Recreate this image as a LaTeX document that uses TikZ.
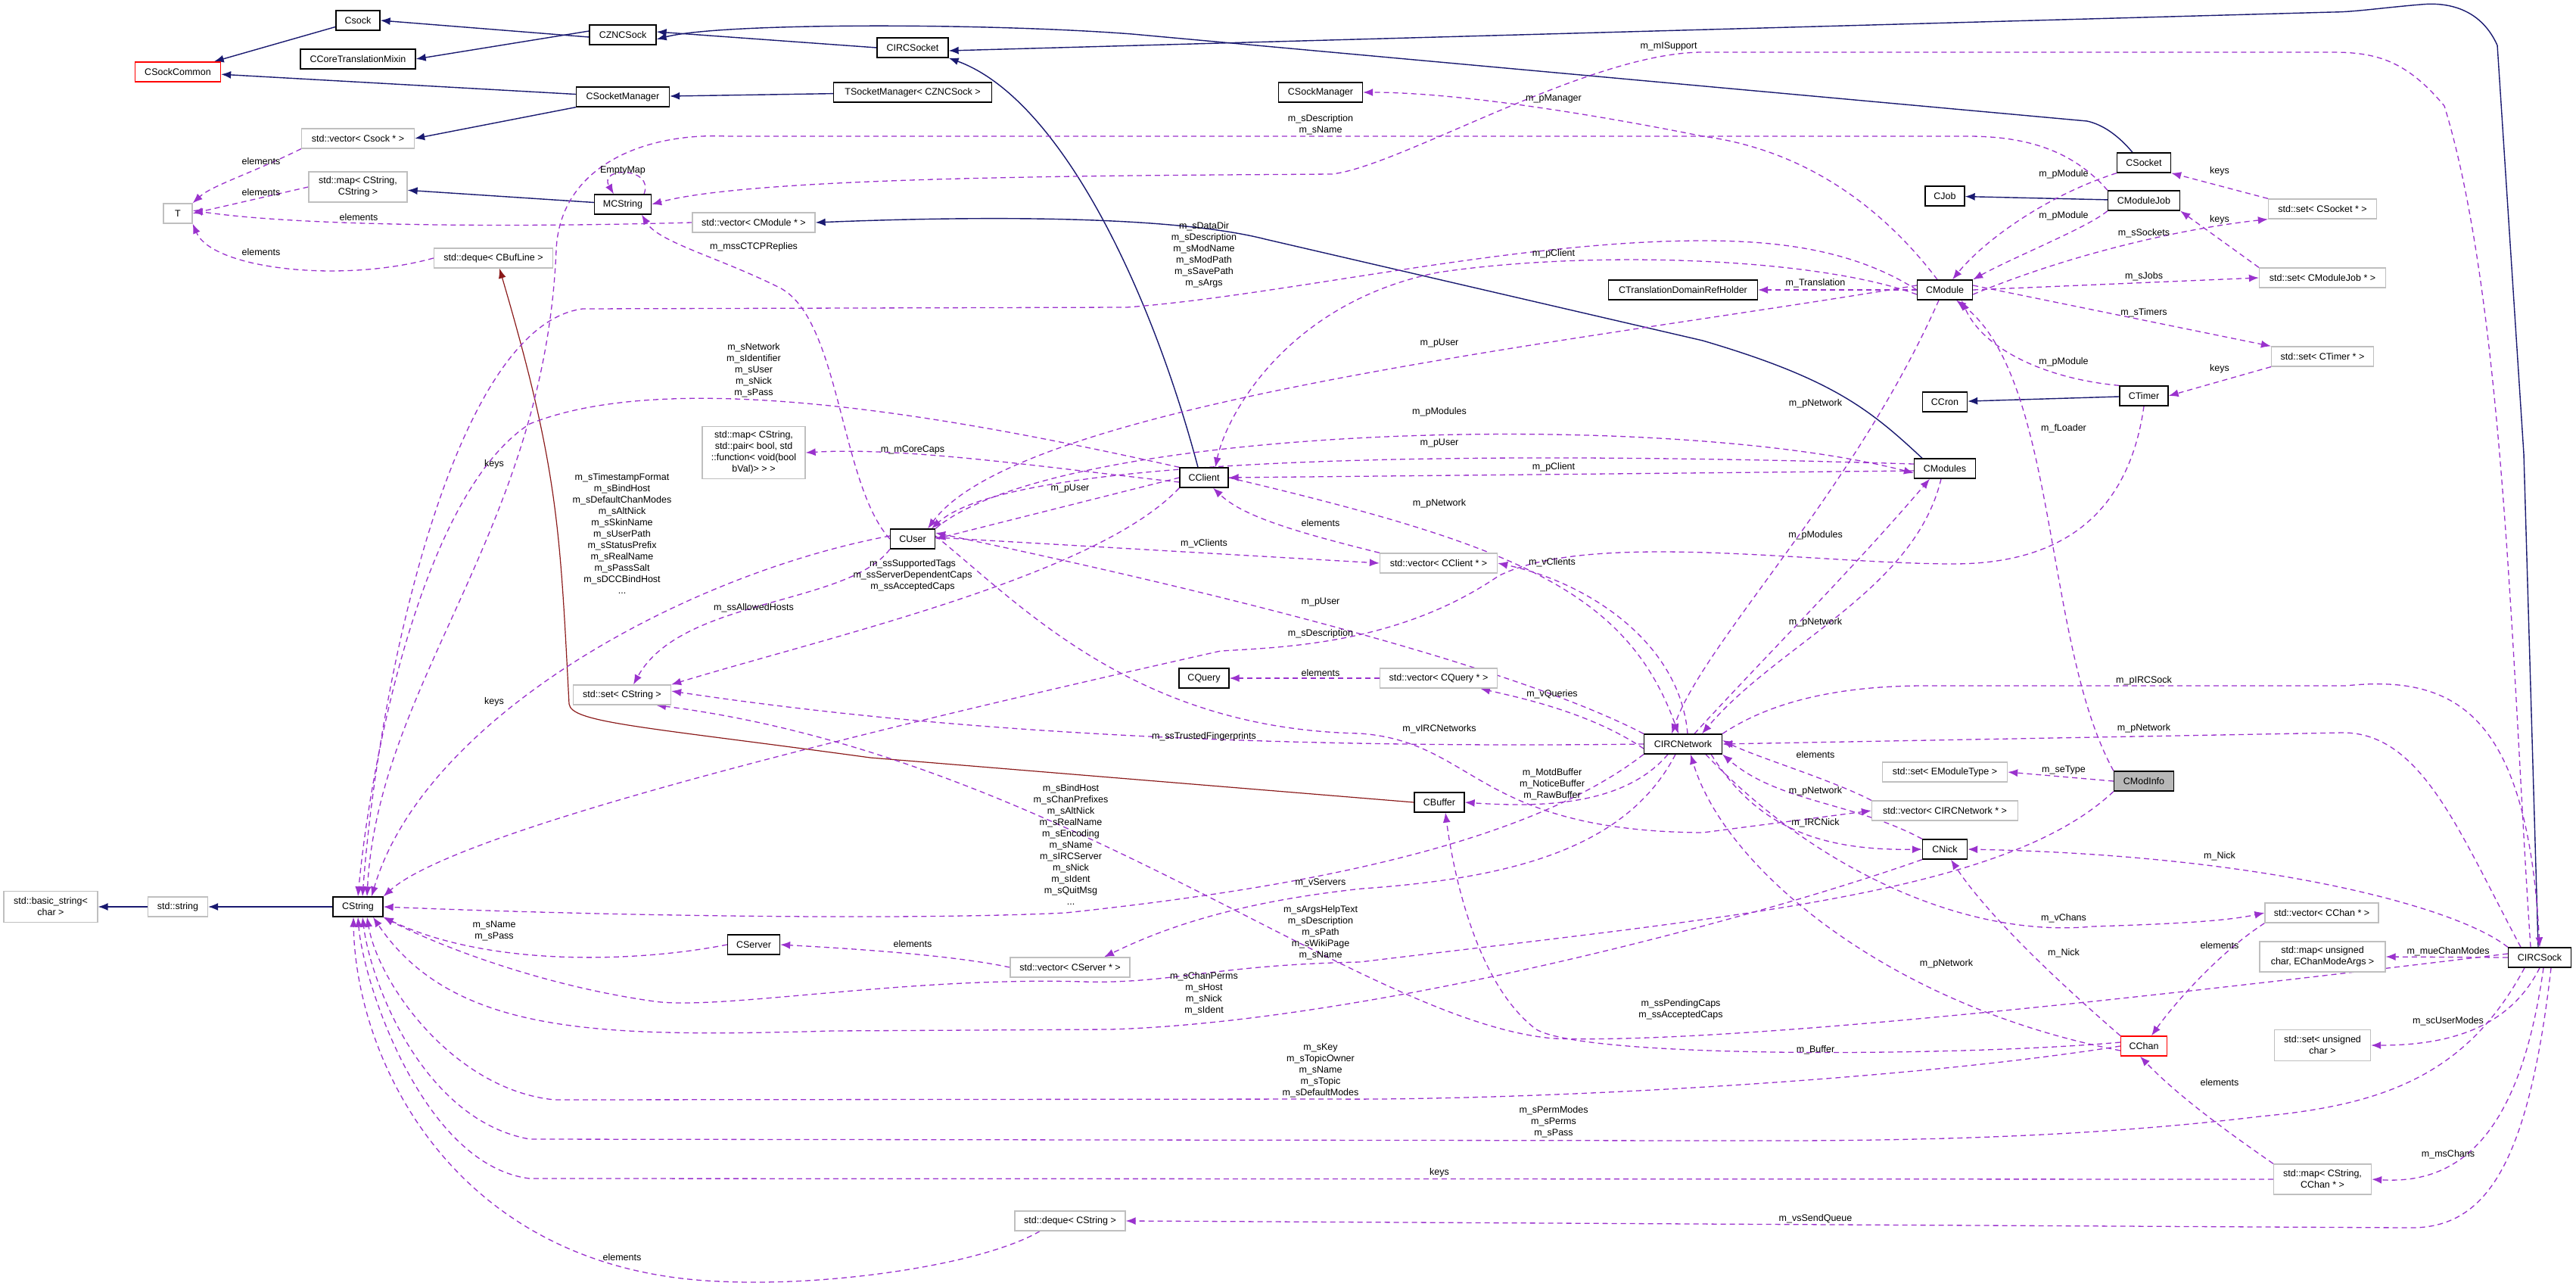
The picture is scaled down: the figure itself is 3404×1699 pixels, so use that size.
\documentclass[tikz,border=0pt]{standalone}
\usepackage{fontspec}
\setmainfont{Liberation Sans}
\usetikzlibrary{arrows.meta,backgrounds}
\definecolor{inhc}{HTML}{191970}
\definecolor{usec}{HTML}{9A32CD}
\definecolor{tplc}{HTML}{8B1A1A}
\begin{document}
\begin{tikzpicture}[x=1pt,y=-1pt,
  every node/.style={font=\fontsize{12.5}{15}\selectfont},
  cls/.style={draw=black,line width=1.3pt,fill=white,minimum height=26,inner sep=0,align=center},
  ext/.style={draw=black!25,line width=1.3pt,fill=white,minimum height=26,inner sep=0,align=center},
  redc/.style={draw=red,line width=1.3pt,fill=white,minimum height=26,inner sep=0},
  focus/.style={draw=black,line width=1.3pt,fill=black!28,minimum height=26,inner sep=0},
  inh/.style={draw=inhc,line width=1.4pt,-{Latex[length=13,width=10]}},
  tpl/.style={draw=tplc,line width=1.2pt,-{Latex[length=13,width=10]}},
  use/.style={draw=usec,line width=1.3pt,dash pattern=on 7pt off 5pt,-{Latex[length=13,width=10]}},
  lbl/.style={align=center,inner sep=1}]
\useasboundingbox (0,0) rectangle (3404,1699);
% nodes
\node[cls,minimum width=58] (Csock) at (473,27) {Csock};
\node[cls,minimum width=88] (CZNCSock) at (823,46) {CZNCSock};
\node[cls,minimum width=152] (CCTM) at (473,78) {CCoreTranslationMixin};
\node[redc,minimum width=113] (CSockCommon) at (235,95) {CSockCommon};
\node[cls,minimum width=123] (CSocketManager) at (823,128) {CSocketManager};
\node[ext,minimum width=149] (vecCsock) at (473,183) {std::vector< Csock * >};
\node[ext,minimum width=130,minimum height=40] (mapSS) at (473,247) {std::map< CString,\\CString >};
\node[ext,minimum width=38] (T) at (235,282) {T};
\node[cls,minimum width=75] (MCString) at (823,270) {MCString};
\node[ext,minimum width=162] (vecCModule) at (996,294) {std::vector< CModule * >};
\node[ext,minimum width=157] (dequeCBufLine) at (652,341) {std::deque< CBufLine >};
\node[ext,minimum width=136,minimum height=69] (mapPair) at (996,598) {std::map< CString,\\std::pair< bool, std\\::function< void(bool\\bVal)> > >};
\node[cls,minimum width=94] (CIRCSocket) at (1206,63) {CIRCSocket};
\node[cls,minimum width=209] (TSocketManager) at (1206,122) {TSocketManager< CZNCSock >};
\node[cls,minimum width=111] (CSockManager) at (1745,122) {CSockManager};
\node[cls,minimum width=197] (CTDRH) at (2224,383) {CTranslationDomainRefHolder};
\node[cls,minimum width=71] (CSocket) at (2833,215) {CSocket};
\node[cls,minimum width=52] (CJob) at (2570,259) {CJob};
\node[cls,minimum width=95] (CModuleJob) at (2833,265) {CModuleJob};
\node[ext,minimum width=143] (setCSocket) at (3069,276) {std::set< CSocket * >};
\node[cls,minimum width=73] (CModule) at (2570,383) {CModule};
\node[ext,minimum width=167] (setCModuleJob) at (3069,367) {std::set< CModuleJob * >};
\node[ext,minimum width=135] (setCTimer) at (3069,471) {std::set< CTimer * >};
\node[cls,minimum width=59] (CCron) at (2570,531) {CCron};
\node[cls,minimum width=64] (CTimer) at (2833,523) {CTimer};
\node[cls,minimum width=64] (CClient) at (1591,631) {CClient};
\node[cls,minimum width=59] (CUser) at (1206,712) {CUser};
\node[ext,minimum width=155] (vecCClient) at (1901,744) {std::vector< CClient * >};
\node[cls,minimum width=66] (CQuery) at (1591,896) {CQuery};
\node[ext,minimum width=155] (vecCQuery) at (1901,896) {std::vector< CQuery * >};
\node[cls,minimum width=103] (CIRCNetwork) at (2224,983) {CIRCNetwork};
\node[cls,minimum width=66] (CBuffer) at (1902,1060) {CBuffer};
\node[ext,minimum width=129] (setCString) at (822,918) {std::set< CString >};
\node[cls,minimum width=81] (CModules) at (2570,619) {CModules};
\node[ext,minimum width=165] (setEMT) at (2570,1020) {std::set< EModuleType >};
\node[focus,minimum width=79] (CModInfo) at (2833,1032) {CModInfo};
\node[ext,minimum width=193] (vecCIRCNetwork) at (2570,1071) {std::vector< CIRCNetwork * >};
\node[cls,minimum width=59] (CNick) at (2570,1122) {CNick};
\node[ext,minimum width=124,minimum height=41] (basicString) at (67,1198) {std::basic\_string<\\char >};
\node[ext,minimum width=79] (stdString) at (235,1198) {std::string};
\node[cls,minimum width=66] (CString) at (473,1198) {CString};
\node[cls,minimum width=69] (CServer) at (996,1248) {CServer};
\node[ext,minimum width=158] (vecCServer) at (1414,1278) {std::vector< CServer * >};
\node[ext,minimum width=146] (dequeCString) at (1414,1613) {std::deque< CString >};
\node[ext,minimum width=150] (vecCChan) at (3068,1206) {std::vector< CChan * >};
\node[ext,minimum width=166,minimum height=40] (mapUC) at (3069,1264) {std::map< unsigned\\char, EChanModeArgs >};
\node[cls,minimum width=83] (CIRCSock) at (3356,1265) {CIRCSock};
\node[redc,minimum width=61] (CChan) at (2833,1382) {CChan};
\node[ext,minimum width=127,minimum height=41] (setUC) at (3069,1381) {std::set< unsigned\\char >};
\node[ext,minimum width=129,minimum height=40] (mapCChan) at (3069,1558) {std::map< CString,\\CChan * >};
% labels
\node[lbl] (l1) at (345,213) {elements};
\node[lbl] (l2) at (345,254) {elements};
\node[lbl] (l3) at (474,287) {elements};
\node[lbl] (l4) at (345,333) {elements};
\node[lbl] (l5) at (823,225) {EmptyMap};
\node[lbl] (l6) at (996,326) {m\_mssCTCPReplies};
\node[lbl] (l7) at (1745,165) {m\_sDescription\\m\_sName};
\node[lbl] (l8) at (2053,130) {m\_pManager};
\node[lbl] (l9) at (2205,61) {m\_mISupport};
\node[lbl] (l10) at (1591,337) {m\_sDataDir\\m\_sDescription\\m\_sModName\\m\_sModPath\\m\_sSavePath\\m\_sArgs};
\node[lbl] (l11) at (2053,335) {m\_pClient};
\node[lbl] (l12) at (1902,453) {m\_pUser};
\node[lbl] (l13) at (1902,544) {m\_pModules};
\node[lbl] (l14) at (1902,585) {m\_pUser};
\node[lbl] (l15) at (1206,594) {m\_mCoreCaps};
\node[lbl] (l16) at (2727,230) {m\_pModule};
\node[lbl] (l17) at (2933,226) {keys};
\node[lbl] (l18) at (2727,285) {m\_pModule};
\node[lbl] (l19) at (2933,290) {keys};
\node[lbl] (l20) at (2833,308) {m\_sSockets};
\node[lbl] (l21) at (2399,374) {m\_Translation};
\node[lbl] (l22) at (2833,365) {m\_sJobs};
\node[lbl] (l23) at (2833,413) {m\_sTimers};
\node[lbl] (l24) at (2727,478) {m\_pModule};
\node[lbl] (l25) at (2933,487) {keys};
\node[lbl] (l26) at (2399,533) {m\_pNetwork};
\node[lbl] (l27) at (2727,566) {m\_fLoader};
\node[lbl] (l28) at (996,489) {m\_sNetwork\\m\_sIdentifier\\m\_sUser\\m\_sNick\\m\_sPass};
\node[lbl] (l29) at (653,613) {keys};
\node[lbl] (l30) at (822,705) {m\_sTimestampFormat\\m\_sBindHost\\m\_sDefaultChanModes\\m\_sAltNick\\m\_sSkinName\\m\_sUserPath\\m\_sStatusPrefix\\m\_sRealName\\m\_sPassSalt\\m\_sDCCBindHost\\...};
\node[lbl] (l31) at (996,803) {m\_ssAllowedHosts};
\node[lbl] (l32) at (653,927) {keys};
\node[lbl] (l33) at (2053,617) {m\_pClient};
\node[lbl] (l34) at (1414,645) {m\_pUser};
\node[lbl] (l35) at (1902,665) {m\_pNetwork};
\node[lbl] (l36) at (1745,691) {elements};
\node[lbl] (l37) at (1591,718) {m\_vClients};
\node[lbl] (l38) at (2051,743) {m\_vClients};
\node[lbl] (l39) at (1206,760) {m\_ssSupportedTags\\m\_ssServerDependentCaps\\m\_ssAcceptedCaps};
\node[lbl] (l40) at (1745,795) {m\_pUser};
\node[lbl] (l41) at (1745,837) {m\_sDescription};
\node[lbl] (l42) at (1745,889) {elements};
\node[lbl] (l43) at (2051,917) {m\_vQueries};
\node[lbl] (l44) at (1902,963) {m\_vIRCNetworks};
\node[lbl] (l45) at (1591,973) {m\_ssTrustedFingerprints};
\node[lbl] (l46) at (2051,1036) {m\_MotdBuffer\\m\_NoticeBuffer\\m\_RawBuffer};
\node[lbl] (l47) at (1415,1116) {m\_sBindHost\\m\_sChanPrefixes\\m\_sAltNick\\m\_sRealName\\m\_sEncoding\\m\_sName\\m\_sIRCServer\\m\_sNick\\m\_sIdent\\m\_sQuitMsg\\...};
\node[lbl] (l48) at (1745,1166) {m\_vServers};
\node[lbl] (l49) at (1745,1232) {m\_sArgsHelpText\\m\_sDescription\\m\_sPath\\m\_sWikiPage\\m\_sName};
\node[lbl] (l50) at (1206,1247) {elements};
\node[lbl] (l51) at (1591,1313) {m\_sChanPerms\\m\_sHost\\m\_sNick\\m\_sIdent};
\node[lbl] (l52) at (653,1230) {m\_sName\\m\_sPass};
\node[lbl] (l53) at (2221,1334) {m\_ssPendingCaps\\m\_ssAcceptedCaps};
\node[lbl] (l54) at (1745,1414) {m\_sKey\\m\_sTopicOwner\\m\_sName\\m\_sTopic\\m\_sDefaultModes};
\node[lbl] (l55) at (2053,1482) {m\_sPermModes\\m\_sPerms\\m\_sPass};
\node[lbl] (l56) at (1902,1549) {keys};
\node[lbl] (l57) at (822,1661) {elements};
\node[lbl] (l58) at (2727,1213) {m\_vChans};
\node[lbl] (l59) at (2933,1249) {elements};
\node[lbl] (l60) at (3235,1257) {m\_mueChanModes};
\node[lbl] (l61) at (2727,1259) {m\_Nick};
\node[lbl] (l62) at (2572,1273) {m\_pNetwork};
\node[lbl] (l63) at (3235,1349) {m\_scUserModes};
\node[lbl] (l64) at (2399,1387) {m\_Buffer};
\node[lbl] (l65) at (2933,1430) {elements};
\node[lbl] (l66) at (3235,1525) {m\_msChans};
\node[lbl] (l67) at (2399,1610) {m\_vsSendQueue};
\node[lbl] (l68) at (2399,707) {m\_pModules};
\node[lbl] (l69) at (2399,822) {m\_pNetwork};
\node[lbl] (l70) at (2833,899) {m\_pIRCSock};
\node[lbl] (l71) at (2833,962) {m\_pNetwork};
\node[lbl] (l72) at (2399,997) {elements};
\node[lbl] (l73) at (2727,1017) {m\_seType};
\node[lbl] (l74) at (2399,1045) {m\_pNetwork};
\node[lbl] (l75) at (2399,1087) {m\_IRCNick};
\node[lbl] (l76) at (2933,1131) {m\_Nick};
\begin{pgfonlayer}{background}
\fill[white] (0,0) rectangle (3404,1699);
% inheritance
\draw[inh] ([yshift=-3]CZNCSock.west) -- (Csock.east);
\draw[inh] (Csock) -- (CSockCommon);
\draw[inh] ([yshift=5]CZNCSock.west) -- (CCTM.east);
\draw[inh] (CSocketManager) -- (CSockCommon);
\draw[inh] (TSocketManager) -- (CSocketManager);
\draw[inh] (CSocketManager.south west) -- (vecCsock.east);
\draw[inh] (MCString) -- (mapSS);
\draw[inh] (CIRCSocket.west) -- ([yshift=4]CZNCSock.east);
\draw[inh] ([xshift=-15]CSocket.north) .. controls (2800,180) and (2780,165) .. (2758,160) -- (1496,45) .. controls (1300,30) and (950,30) .. ([yshift=-6]CZNCSock.east);
\draw[inh] ([xshift=-2]CIRCSock.north) -- (3335,600) -- (3300,60) .. controls (3280,15) and (3240,2) .. (3199,6) .. controls (3150,10) and (3110,16) .. (3082,16) -- ([yshift=-4]CIRCSocket.east);
\draw[inh] ([xshift=-8]CClient.north) .. controls (1520,380) and (1400,130) .. (CIRCSocket.south east);
\draw[inh] (CModuleJob) -- (CJob);
\draw[inh] (CTimer) -- (CCron);
\draw[inh] ([xshift=-30]CModules.north) .. controls (2470,540) and (2420,500) .. (2250,450) -- (1672,316) .. controls (1550,285) and (1300,285) .. (vecCModule.east);
\draw[inh] (stdString) -- (basicString);
\draw[inh] (CString) -- (stdString);
\draw[tpl] (CBuffer.west) -- (1150,1001) .. controls (850,960) and (755,955) .. (752,930) .. controls (740,700) and (738,620) .. ([xshift=8]dequeCBufLine.south);
% usage
\draw[use] (vecCsock.south west) .. controls (330,230) and (280,245) .. (T.north east);
\draw[use] (mapSS.west) -- (T.east);
\draw[use] (vecCModule.west) .. controls (700,300) and (400,300) .. ([yshift=4]T.east);
\draw[use] (dequeCBufLine.west) .. controls (450,375) and (280,355) .. (T.south east);
\draw[use] ([xshift=28]MCString.north) .. controls (865,220) and (790,220) .. ([xshift=-12]MCString.north);
\draw[use] (CUser.west) .. controls (1110,640) and (1110,420) .. (1030,380) .. controls (950,340) and (870,320) .. ([xshift=25]MCString.south);
\draw[use] ([xshift=-12]CIRCSock.north) .. controls (3320,900) and (3310,400) .. (3230,140) .. controls (3180,80) and (3140,69) .. (3082,69) -- (2250,69) .. controls (2100,69) and (1850,220) .. (1760,230) .. controls (1500,232) and (1000,232) .. (MCString.east);
\draw[use] (CModuleJob.north west) .. controls (2740,200) and (2680,180) .. (2600,180) -- (960,180) .. controls (850,175) and (740,220) .. (735,330) .. controls (720,700) and (500,900) .. ([xshift=12]CString.north);
\draw[use] ([xshift=-10]CModule.north) .. controls (2500,290) and (2400,200) .. (2250,180) .. controls (2050,140) and (1900,122) .. (CSockManager.east);
\draw[use] (CModule.west) .. controls (2450,330) and (2350,318) .. (2250,318) .. controls (2000,318) and (1700,390) .. (1489,406) -- (770,408) .. controls (600,430) and (500,900) .. ([xshift=6]CString.north);
\draw[use] ([yshift=-6]CModule.west) .. controls (2400,340) and (2100,330) .. (1900,360) .. controls (1700,400) and (1620,550) .. ([xshift=15]CClient.north);
\draw[use] ([yshift=6]CModule.west) .. controls (2100,450) and (1350,530) .. ([xshift=20]CUser.north);
\draw[use] (CUser.north east) .. controls (1400,560) and (2200,540) .. ([yshift=-6]CModules.west);
\draw[use] ([yshift=6]CModules.west) .. controls (2100,600) and (1350,590) .. ([xshift=25]CUser.north);
\draw[use] ([yshift=-3]CModules.west) -- (CClient.east);
\draw[use] (CClient.west) -- (CUser.east);
\draw[use] (CClient.north west) .. controls (1300,560) and (900,480) .. (700,560) .. controls (560,650) and (490,1000) .. (CString.north);
\draw[use] (CClient.south west) .. controls (1450,760) and (1100,840) .. (setCString.north east);
\draw[use] ([yshift=-6]CClient.west) .. controls (1400,620) and (1200,590) .. (mapPair.east);
\draw[use] ([yshift=4]CUser.west) .. controls (900,760) and (560,950) .. ([xshift=18]CString.north);
\draw[use] (CUser.south west) .. controls (1120,800) and (900,790) .. ([xshift=15]setCString.north);
\draw[use] ([yshift=2]CUser.east) -- (vecCClient.west);
\draw[use] (vecCClient.north west) .. controls (1700,700) and (1640,680) .. ([xshift=12]CClient.south);
\draw[use] (CClient.east) .. controls (2000,720) and (2150,780) .. ([xshift=-6]CIRCNetwork.north);
\draw[use] ([xshift=6]CIRCNetwork.north) .. controls (2220,850) and (2100,770) .. (vecCClient.east);
\draw[use] (CIRCNetwork.north west) .. controls (2000,880) and (1600,780) .. ([yshift=8]CUser.east);
\draw[use] (CTimer.south) .. controls (2810,700) and (2700,745) .. (2581,745) .. controls (2400,745) and (2100,700) .. (1980,761) .. controls (1850,850) and (1700,855) .. (1613,860) .. controls (1100,975) and (600,1100) .. (CString.north east);
\draw[use] ([yshift=4]CUser.east) .. controls (1350,800) and (1500,963) .. (1797,969) .. controls (1950,980) and (1950,1098) .. (2250,1100) -- (vecCIRCNetwork.west);
\draw[use] (vecCIRCNetwork.north west) .. controls (2420,1030) and (2320,1000) .. ([yshift=5]CIRCNetwork.east);
\draw[use] (CIRCNetwork.west) .. controls (1600,990) and (1200,960) .. ([yshift=5]setCString.east);
\draw[use] ([yshift=5]CIRCSock.west) .. controls (2900,1310) and (2300,1380) .. (2053,1372) .. controls (1800,1350) and (1400,1000) .. ([xshift=45]setCString.south);
\draw[use] (CIRCNetwork.south west) .. controls (2000,1130) and (1650,1180) .. (1408,1206) .. controls (1200,1216) and (800,1210) .. (CString.east);
\draw[use] ([xshift=-20]CIRCNetwork.south) .. controls (2150,1060) and (2050,1068) .. (CBuffer.east);
\draw[use] ([yshift=5]CChan.west) .. controls (2600,1395) and (2100,1400) .. (2030,1360) .. controls (1950,1300) and (1920,1150) .. ([xshift=8]CBuffer.south);
\draw[use] ([yshift=-6]CIRCNetwork.west) .. controls (2100,940) and (2000,920) .. ([xshift=55]vecCQuery.south);
\draw[use] (vecCQuery) -- (CQuery);
\draw[use] ([xshift=15]CIRCNetwork.north) .. controls (2330,870) and (2450,750) .. ([xshift=-20]CModules.south);
\draw[use] ([xshift=-5]CModules.south) .. controls (2530,780) and (2350,850) .. ([xshift=25]CIRCNetwork.north);
\draw[use] ([xshift=-8]CModule.south) .. controls (2450,650) and (2250,850) .. ([xshift=-15]CIRCNetwork.north);
\draw[use] (CModInfo.north west) .. controls (2700,850) and (2720,500) .. ([xshift=15]CModule.south);
\draw[use] (CModInfo.west) -- (setEMT.east);
\draw[use] (CModInfo.south west) .. controls (2650,1180) and (2300,1210) .. (1797,1271) .. controls (1600,1275) and (1550,1300) .. (1430,1297) .. controls (1200,1290) and (950,1335) .. (865,1323) .. controls (700,1300) and (560,1240) .. (CString.south east);
\draw[use] (CNick.south west) .. controls (2300,1220) and (1800,1350) .. (1467,1360) -- (1100,1362) .. controls (800,1370) and (600,1370) .. ([xshift=20]CString.south);
\draw[use] (CChan.west) .. controls (2500,1430) and (2000,1454) .. (1760,1452) -- (733,1453) .. controls (600,1440) and (500,1300) .. ([xshift=12]CString.south);
\draw[use] ([xshift=-20]CIRCSock.south) .. controls (3260,1420) and (3150,1460) .. (2986,1475) .. controls (2700,1510) and (2400,1507) .. (2250,1507) -- (700,1505) .. controls (560,1480) and (490,1300) .. ([xshift=6]CString.south);
\draw[use] (mapCChan.west) -- (700,1557) .. controls (560,1540) and (480,1300) .. (CString.south);
\draw[use] ([xshift=-40]dequeCString.south) .. controls (1300,1670) and (1100,1700) .. (953,1693) .. controls (600,1680) and (470,1400) .. ([xshift=-6]CString.south);
\draw[use] (CServer.west) .. controls (850,1270) and (650,1280) .. (CString.south east);
\draw[use] (vecCServer.west) .. controls (1250,1260) and (1100,1252) .. (CServer.east);
\draw[use] ([xshift=-10]CIRCNetwork.south) .. controls (2150,1120) and (2000,1160) .. (1800,1174) .. controls (1650,1190) and (1550,1220) .. ([xshift=45]vecCServer.north);
\draw[use] (CNick.north west) .. controls (2450,1060) and (2350,1060) .. (CIRCNetwork.south east);
\draw[use] ([xshift=-15]CIRCNetwork.south east) .. controls (2320,1090) and (2400,1124) .. (CNick.west);
\draw[use] ([xshift=30]CIRCNetwork.south) .. controls (2400,1150) and (2600,1240) .. (2765,1224) .. controls (2900,1220) and (2950,1215) .. (vecCChan.west);
\draw[use] (vecCChan.south west) .. controls (2930,1260) and (2870,1330) .. ([xshift=10]CChan.north);
\draw[use] (CChan.north west) .. controls (2700,1280) and (2620,1200) .. ([xshift=8]CNick.south);
\draw[use] ([yshift=-6]CChan.west) .. controls (2500,1330) and (2280,1150) .. ([xshift=10]CIRCNetwork.south);
\draw[use] ([xshift=-25]CIRCSock.north) .. controls (3250,1100) and (3200,968) .. (3096,968) -- (CIRCNetwork.east);
\draw[use] (CIRCNetwork.north east) .. controls (2350,920) and (2450,906) .. (2544,906) -- (3100,906) .. controls (3250,890) and (3340,950) .. (CIRCSock.north);
\draw[use] (CIRCSock.north west) .. controls (3250,1200) and (3000,1130) .. (CNick.east);
\draw[use] (CIRCSock.west) -- (mapUC.east);
\draw[use] (CIRCSock.south) .. controls (3320,1350) and (3250,1381) .. (setUC.east);
\draw[use] ([xshift=5]CIRCSock.south) .. controls (3330,1500) and (3250,1565) .. (mapCChan.east);
\draw[use] ([xshift=15]CIRCSock.south) .. controls (3340,1550) and (3280,1625) .. (3180,1622) -- (dequeCString.east);
\draw[use] (mapCChan.north west) .. controls (2950,1500) and (2880,1450) .. ([xshift=-5]CChan.south);
\draw[use] (CModule.west) -- (CTDRH.east);
\draw[use] ([yshift=-6]CModule.east) .. controls (2750,330) and (2900,300) .. (setCSocket.south west);
\draw[use] (CModule.east) -- (setCModuleJob.west);
\draw[use] ([yshift=6]CModule.east) -- (setCTimer.north west);
\draw[use] (setCSocket.north west) -- (CSocket.south east);
\draw[use] (setCModuleJob.north west) -- (CModuleJob.south east);
\draw[use] (setCTimer.south west) -- (CTimer.east);
\draw[use] (CSocket.south west) .. controls (2700,260) and (2620,320) .. ([xshift=10]CModule.north);
\draw[use] (CModuleJob.south west) .. controls (2760,300) and (2660,340) .. (CModule.north east);
\draw[use] (CTimer.north west) .. controls (2700,500) and (2620,460) .. ([xshift=22]CModule.south);
\end{pgfonlayer}
\end{tikzpicture}
\end{document}
